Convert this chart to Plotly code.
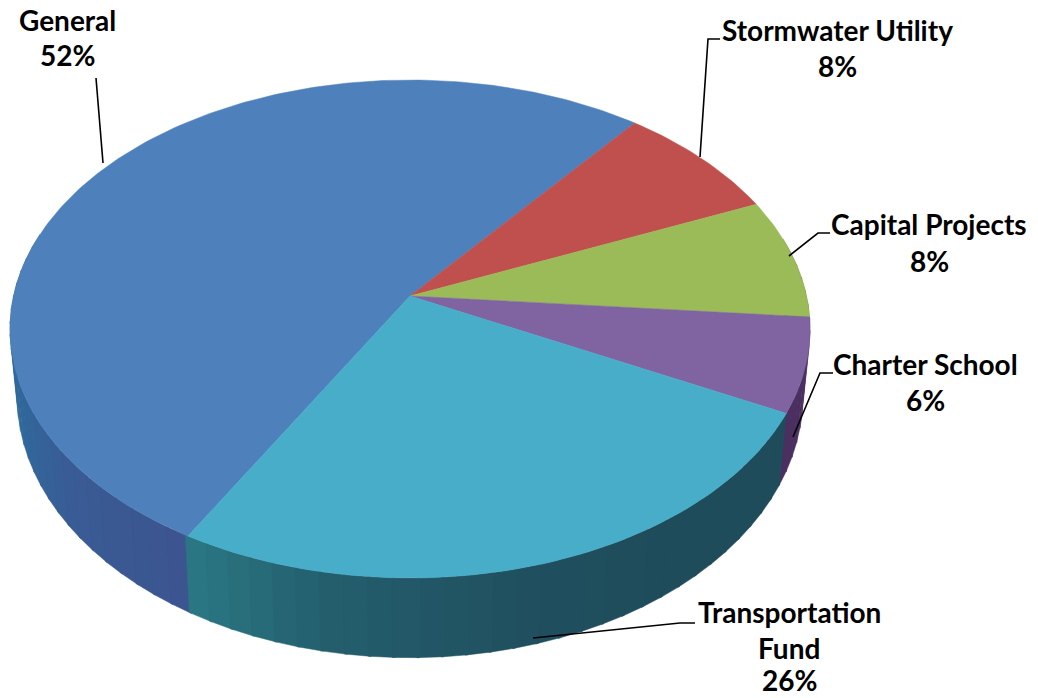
import numpy as np
import plotly.graph_objects as go

# Data
categories = ["General", "Stormwater Utility", "Capital Projects", "Charter School", "Transportation Fund"]
shares = [52.5, 7.8, 7.8, 6.1, 25.8]
shown_percent = ["52%", "8%", "8%", "6%", "26%"]

top_colors = ["#4e80bc", "#c0504d", "#9bbb59", "#8064a2", "#47adc9"]
wall_stops = [
    ["#3c5590", "#3a5c96", "#30699c", "#2a6c9c"],
    ["#7d2f2c", "#7d2f2c"],
    ["#5f7a33", "#5f7a33"],
    ["#4a2f60", "#4a2f60"],
    ["#1f4c5a", "#1f4c5a", "#205060", "#245d6c", "#2c7a86"],
]
# share of each wall's arc that its colour stops are spread over
wall_stretch = [3.2, 1, 1, 1, 1]

START_DEG = 209.7      # clockwise from straight back: where General begins
TILT = 0.1325          # perspective of the disc
TOP = dict(cx=410, cy=296, rx=396.5, ry=244.6)
BOTTOM = dict(cx=410, cy=361, rx=389.5, ry=257.4)


def ring(theta_deg, d):
    t = np.radians(theta_deg)
    u, v = np.sin(t), np.cos(t)
    w = 1 + TILT * v
    return d["cx"] + d["rx"] * u / w, d["cy"] - d["ry"] * v / w


def hex_rgb(h):
    return np.array([int(h[i:i + 2], 16) for i in (1, 3, 5)], float)


def shade(stops, f):
    pos = f * (len(stops) - 1)
    i = min(int(pos), len(stops) - 2)
    c = hex_rgb(stops[i]) * (1 - (pos - i)) + hex_rgb(stops[i + 1]) * (pos - i)
    return "rgb(%d,%d,%d)" % tuple(c)


fig = go.Figure()
total = sum(shares)
spans = [s / total * 360 for s in shares]
starts = START_DEG + np.concatenate([[0], np.cumsum(spans)[:-1]])

# walls: narrow strips, painted from the back of the disc to the front
strips = []
for k, (s, sp) in enumerate(zip(starts, spans)):
    n = max(2, int(sp / 3))
    edges = np.linspace(s, s + sp, n + 1)
    for j in range(n):
        a, b = edges[j], edges[j + 1]
        mid = (a + b) / 2
        if np.cos(np.radians(mid)) > 0.25:
            continue
        strips.append((np.cos(np.radians(mid)), k, a, b, (a - s) / sp))
strips.sort(key=lambda r: -r[0])
for _, k, a, b, f in strips:
    th = np.linspace(a, b + 0.4, 6)
    tx, ty = ring(th, TOP)
    bx, by = ring(th[::-1], BOTTOM)
    col = shade(wall_stops[k], min(1.0, f * wall_stretch[k]))
    fig.add_trace(go.Scatter(
        x=np.r_[tx, bx], y=np.r_[ty, by], mode="lines", fill="toself",
        fillcolor=col, line=dict(width=0.5, color=col), hoverinfo="skip", showlegend=False))

# top face
for name, s, sp, col in zip(categories, starts, spans, top_colors):
    th = np.linspace(s, s + sp, max(8, int(sp)))
    x, y = ring(th, TOP)
    fig.add_trace(go.Scatter(
        x=np.r_[TOP["cx"], x, TOP["cx"]], y=np.r_[TOP["cy"], y, TOP["cy"]],
        mode="lines", fill="toself", fillcolor=col, line=dict(width=0.5, color=col),
        name=name, hoverinfo="name", showlegend=False))


def leader(path):
    return dict(type="path", path=path, xref="x", yref="y",
                line=dict(color="#000000", width=1.6))


shapes = [
    leader("M103,163 L96,78"),
    leader("M700,157 L708,39 L720,39"),
    leader("M789,256 L818,233 L830,233"),
    leader("M793,437 L820,373 L833,373"),
    leader("M533,638 L680,623 L695,623"),
]


def text(x, y, s):
    fig.add_annotation(x=x, y=y, text="<b>%s</b>" % s, showarrow=False, xref="x", yref="y",
                       xanchor="center", yanchor="middle",
                       font=dict(family="Lato", size=28, color="#000000"))


text(67, 20, categories[0]); text(67, 55, shown_percent[0])
text(837, 30, categories[1]); text(837, 66, shown_percent[1])
text(929, 224, categories[2]); text(929, 261, shown_percent[2])
text(925, 364, categories[3]); text(925, 400, shown_percent[3])
first, second = categories[4].split(" ")
text(789, 612, first); text(789, 648, second); text(789, 680, shown_percent[4])

fig.update_layout(
    width=1038, height=698, margin=dict(l=0, r=0, t=0, b=0, pad=0),
    paper_bgcolor="#ffffff", plot_bgcolor="#ffffff", shapes=shapes, showlegend=False,
    xaxis=dict(range=[0, 1038], visible=False, fixedrange=True),
    yaxis=dict(range=[698, 0], visible=False, fixedrange=True),
)
fig.write_html("out.html", config={"displayModeBar": False},
               post_script="document.body.style.margin='0';")
